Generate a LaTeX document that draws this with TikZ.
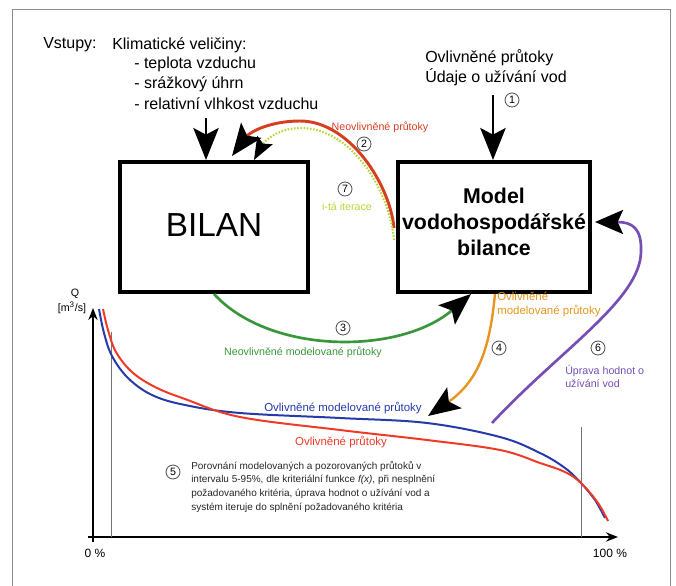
\documentclass[tikz,border=0pt]{standalone}
\usepackage{fontspec}
\setmainfont{Liberation Sans}
\usepackage{xcolor}
\usetikzlibrary{arrows.meta, calc, positioning}

\definecolor{neored}{RGB}{214,62,32}
\definecolor{iterg}{RGB}{184,214,58}
\definecolor{modg}{RGB}{58,150,58}
\definecolor{orng}{RGB}{230,150,30}
\definecolor{purp}{RGB}{118,78,180}
\definecolor{blu}{RGB}{38,58,168}
\definecolor{gred}{RGB}{240,58,38}

\begin{document}
\begin{tikzpicture}[x=0.75pt, y=-0.75pt,
  box/.style={draw, line width=3pt, inner sep=0pt},
  num/.style={circle, draw=black!70, line width=0.6pt, inner sep=0pt, minimum size=10.5pt, font=\fontsize{8}{8}\selectfont},
  big/.style={-{Stealth[length=24pt, width=19pt, inset=5pt, black]}},
  maintxt/.style={font=\fontsize{12}{14}\selectfont, inner sep=0pt, anchor=west},
  lbl/.style={font=\fontsize{8}{9.5}\selectfont, inner sep=0pt},
  glbl/.style={font=\fontsize{8.6}{10}\selectfont, inner sep=0pt}]
  \useasboundingbox (0,0) rectangle (676,586);

  % Frame
  \draw[black!45, line width=0.6pt] (12,586) -- (12,9) -- (670,9) -- (670,586);

  % Inputs
  \node[maintxt] (vstupy) at (43,45) {Vstupy:};
  \node[maintxt] (klim) at (112,45) {Klimatické veličiny:};
  \node[maintxt] (tepl) at (134,64) {- teplota vzduchu};
  \node[maintxt] (sraz) at (134,84) {- srážkový úhrn};
  \node[maintxt] (vlhk) at (134,104) {- relativní vlhkost vzduchu};
  \node[maintxt] (ovl) at (425,58) {Ovlivněné průtoky};
  \node[maintxt] (udaje) at (425,77) {Údaje o užívání vod};

  % Boxes
  \node[box, minimum width=141pt, minimum height=97.5pt] (bilan) at (214,227) {};
  \node[font=\fontsize{25}{30}\selectfont] (bilantxt) at (214,225) {BILAN};
  \node[box, minimum width=144pt, minimum height=97.5pt] (model) at (494,227) {};
  \node[font=\bfseries\fontsize{16}{19.5}\selectfont, align=center] (modeltxt) at (494,222) {Model\\vodohospodářské\\bilance};

  % Input arrows
  \coordinate (klimtop) at (206,118);
  \draw[big, line width=2pt] (klimtop) -- (klimtop |- bilan.north);
  \coordinate (ovltop) at (493,95);
  \draw[big, line width=2pt] (ovltop) -- (ovltop |- model.north);
  \node[num] (n1) at (512,100) {1};

  % Neovlivnene prutoky (2)
  \draw[neored, line width=2.2pt, big] ($(model.west)+(-2,1)$) .. controls (390,185) and (350,121) .. (300,121) .. controls (270,121) and (250,132) .. ($(bilan.north)+(18,-4)$);
  \node[lbl, text=neored] (l2) at (380,127) {Neovlivněné průtoky};
  \node[num] (n2) at (364,144) {2};

  % i-ta iterace (7)
  \draw[iterg, line width=1.6pt, dash pattern=on 1.2pt off 1.2pt, -{Stealth[length=17pt, width=13pt, inset=3pt, black]}] ($(model.west)+(-2,13)$) .. controls (390,195) and (355,128) .. (300,128) .. controls (280,128) and (265,140) .. ($(bilan.north)+(40,0)$);
  \node[num] (n7) at (345,189) {7};
  \node[lbl, text=iterg] (l7) at (347,207) {i-tá iterace};

  % Neovlivnene modelovane prutoky (3)
  \draw[modg, line width=2pt, big] (bilan.south) .. controls (270,355) and (400,355) .. ($(model.south west)+(75,0)$);
  \node[num] (n3) at (343,328) {3};
  \node[lbl, text=modg] (l3) at (303,352) {Neovlivněné modelované průtoky};

  % Ovlivnene modelovane prutoky (4)
  \coordinate (o4) at (428,416);
  \draw[orng, line width=1.8pt, big] ($(model.south)+(1,0)$) .. controls (490,345) and (480,380) .. (o4);
  \node[glbl, text=orng, anchor=north west, align=left] (l4) at (497,292) {Ovlivněné\\modelované průtoky};
  \node[num] (n4) at (499,348) {4};

  % Uprava hodnot (6)
  \coordinate (p6) at (492,423);
  \draw[purp, line width=2pt, -{Stealth[length=21pt, width=18pt, inset=4pt, black]}] (p6) .. controls (560,350) and (640,300) .. (641,252) .. controls (642,228) and (632,222) .. ($(model.east)+(3,-5)$);
  \node[num] (n6) at (598,348) {6};
  \node[lbl, text=purp, anchor=north west, align=left] (l6) at (565,365) {Úprava hodnot o\\užívání vod};

  % Graph
  \coordinate (o) at (93,537);
  \coordinate (ytop) at (93,308);
  \coordinate (xend) at (618,537);
  \coordinate (p5) at (111,537);
  \coordinate (p95) at (581,537);
  \draw[line width=1.6pt, -{Stealth[length=9pt, width=7pt]}] ($(o)+(0,5)$) -- (ytop);
  \draw[line width=1.6pt, -{Stealth[length=9pt, width=7pt]}] ($(o)+(-5,0)$) -- (xend);
  \draw[black!55, line width=0.6pt] ($(p5)+(0,-205)$) -- (p5);
  \draw[black!55, line width=0.6pt] ($(p95)+(0,-110)$) -- (p95);
  \draw[blu, line width=1.5pt] plot[smooth, tension=0.6] coordinates {(99,309) (104,333) (112,356) (128,378) (152,395) (185,405) (240,413) (340,418) (427,423) (500,437) (540,453) (565,468) (581,483) (595,500) (605,518)};
  \draw[gred, line width=1.5pt] plot[smooth, tension=0.6] coordinates {(103,309) (108,330) (116,352) (132,372) (155,387) (185,399) (240,417) (340,430) (427,440) (500,450) (540,463) (565,472) (581,483) (598,503) (608,521)};
  \node[glbl, text=blu] (lb) at (343,408) {Ovlivněné modelované průtoky};
  \node[glbl, text=gred] (lr) at (341,442) {Ovlivněné průtoky};
  \node[lbl] (q) at (75,294) {Q};
  \node[lbl] (unit) at (72,308) {[m\textsuperscript{3}/s]};
  \node[font=\fontsize{9}{10}\selectfont] (p0) at (95,553) {0 \%};
  \node[font=\fontsize{9}{10}\selectfont] (p100) at (610,553) {100 \%};

  % Popis (5)
  \node[num] (n5) at (173,472) {5};
  \node[anchor=north west, align=left, inner sep=0pt, text=black!85, font=\fontsize{7.5}{10.2}\selectfont] (popis) at (191,461) {Porovnání modelovaných a pozorovaných průtoků v\\intervalu 5-95\%, dle kriteriální funkce \textit{f(x)}, při nesplnění\\požadovaného kritéria, úprava hodnot o užívání vod a\\systém iteruje do splnění požadovaného kritéria};
\end{tikzpicture}
\end{document}
